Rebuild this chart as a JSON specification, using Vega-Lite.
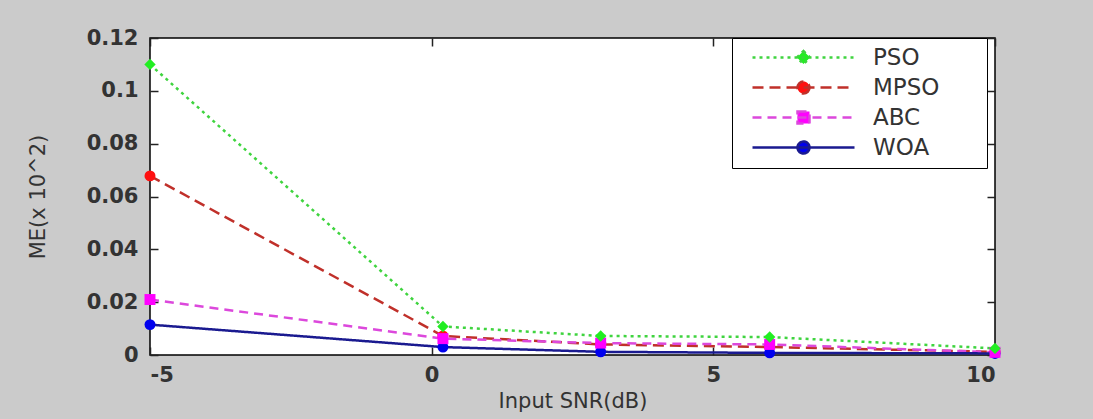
{
  "$schema": "https://vega.github.io/schema/vega-lite/v6.json",
  "width": 845,
  "height": 317,
  "autosize": {"type": "none"},
  "padding": {"left": 150, "top": 38, "right": 98, "bottom": 64},
  "background": "#cbcbcb",
  "config": {
    "view": {"fill": "white", "stroke": "black", "strokeWidth": 1.5},
    "axis": {
      "labelFont": "DejaVu Sans",
      "labelFontWeight": "bold",
      "labelFontSize": 21,
      "labelColor": "#333333",
      "titleFont": "DejaVu Sans",
      "titleFontWeight": "normal",
      "titleFontSize": 21,
      "titleColor": "#333333",
      "domain": false,
      "grid": false,
      "tickColor": "#222222",
      "tickWidth": 1.5,
      "tickSize": -8
    }
  },
  "data": {
    "values": [
      {"snr": -5, "me": 0.110, "algo": "PSO"},
      {"snr": 0.2, "me": 0.0108, "algo": "PSO"},
      {"snr": 3, "me": 0.0072, "algo": "PSO"},
      {"snr": 6, "me": 0.0068, "algo": "PSO"},
      {"snr": 10, "me": 0.0025, "algo": "PSO"},
      {"snr": -5, "me": 0.0678, "algo": "MPSO"},
      {"snr": 0.2, "me": 0.0072, "algo": "MPSO"},
      {"snr": 3, "me": 0.0040, "algo": "MPSO"},
      {"snr": 6, "me": 0.0030, "algo": "MPSO"},
      {"snr": 10, "me": 0.0012, "algo": "MPSO"},
      {"snr": -5, "me": 0.0210, "algo": "ABC"},
      {"snr": 0.2, "me": 0.0062, "algo": "ABC"},
      {"snr": 3, "me": 0.0045, "algo": "ABC"},
      {"snr": 6, "me": 0.0040, "algo": "ABC"},
      {"snr": 10, "me": 0.0010, "algo": "ABC"},
      {"snr": -5, "me": 0.0115, "algo": "WOA"},
      {"snr": 0.2, "me": 0.0030, "algo": "WOA"},
      {"snr": 3, "me": 0.0012, "algo": "WOA"},
      {"snr": 6, "me": 0.0008, "algo": "WOA"},
      {"snr": 10, "me": 0.0006, "algo": "WOA"}
    ]
  },
  "resolve": {"axis": {"x": "independent", "y": "independent"}},
  "layer": [
    {
      "mark": {"type": "line", "strokeWidth": 2.5, "clip": false},
      "encoding": {
        "x": {
          "field": "snr", "type": "quantitative",
          "scale": {"domain": [-5, 10], "nice": false, "zero": false},
          "axis": {"orient": "bottom", "values": [-5, 0, 5, 10], "labelExpr": "toString(datum.value)", "labelPadding": 17, "title": "Input SNR(dB)", "titlePadding": 5}
        },
        "y": {
          "field": "me", "type": "quantitative",
          "scale": {"domain": [0, 0.12], "nice": false},
          "axis": {"orient": "left", "values": [0, 0.02, 0.04, 0.06, 0.08, 0.1, 0.12], "labelExpr": "format(datum.value, '.2~f')", "labelPadding": 20, "title": "ME(x 10^2)", "titlePadding": 38}
        },
        "color": {
          "field": "algo", "type": "nominal",
          "scale": {"domain": ["PSO", "MPSO", "ABC", "WOA"], "range": ["#3fd43f", "#c0302a", "#dc48dc", "#1a1a90"]},
          "legend": {
            "title": null,
            "orient": "none",
            "legendX": 582,
            "legendY": 0,
            "padding": 8,
            "strokeColor": "black",
            "fillColor": "white",
            "labelFont": "DejaVu Sans",
            "labelFontSize": 23,
            "labelColor": "#333333",
            "labelOffset": 58,
            "symbolOffset": 52,
            "rowPadding": 6,
            "symbolSize": 144,
            "symbolStrokeWidth": 2.5,
            "encode": {
              "symbols": {
                "update": {
                  "shape": {"signal": "datum.value === 'ABC' ? 'M-8.5,0H8.5M-1,-1H1V1H-1ZM28.4,0' : (datum.value === 'PSO' ? 'M-8.5,0H8.5M0,-1.1L1.1,0L0,1.1L-1.1,0ZM28.4,0' : 'M-8.5,0H8.5M1,0A1,1 0 1,1 -1,0A1,1 0 1,1 1,0ZM28.4,0')"},
                  "fill": {"signal": "datum.value === 'PSO' ? '#22ee22' : (datum.value === 'MPSO' ? '#ff1010' : (datum.value === 'ABC' ? '#ff00ff' : '#0000ee'))"},
                  "strokeDash": {"signal": "datum.value === 'PSO' ? [3, 4] : (datum.value === 'MPSO' ? [11, 6] : (datum.value === 'ABC' ? [9, 6] : [1, 0]))"},
                  "strokeWidth": {"value": 2.5},
                  "opacity": {"value": 1}
                }
              }
            }
          }
        },
        "strokeDash": {
          "field": "algo", "type": "nominal",
          "scale": {"domain": ["PSO", "MPSO", "ABC", "WOA"], "range": [[3, 4], [11, 6], [9, 6], [1, 0]]},
          "legend": null
        }
      }
    },
    {
      "transform": [{"filter": "datum.algo === 'MPSO' || datum.algo === 'WOA'"}],
      "mark": {"type": "point", "shape": "circle", "filled": true, "opacity": 1, "size": 120, "clip": false},
      "encoding": {
        "x": {"field": "snr", "type": "quantitative", "axis": null},
        "y": {"field": "me", "type": "quantitative", "axis": null},
        "fill": {
          "field": "algo", "type": "nominal",
          "scale": {"domain": ["PSO", "MPSO", "ABC", "WOA"], "range": ["#22ee22", "#ff1010", "#ff00ff", "#0000ee"]},
          "legend": null
        }
      }
    },
    {
      "transform": [{"filter": "datum.algo === 'ABC'"}],
      "mark": {"type": "point", "shape": "square", "filled": true, "opacity": 1, "size": 120, "clip": false},
      "encoding": {
        "x": {"field": "snr", "type": "quantitative", "axis": null},
        "y": {"field": "me", "type": "quantitative", "axis": null},
        "fill": {"field": "algo", "type": "nominal", "legend": null}
      }
    },
    {
      "transform": [{"filter": "datum.algo === 'PSO'"}],
      "mark": {"type": "point", "shape": "diamond", "filled": true, "opacity": 1, "size": 130, "clip": false},
      "encoding": {
        "x": {"field": "snr", "type": "quantitative", "axis": null},
        "y": {"field": "me", "type": "quantitative", "axis": null},
        "fill": {"field": "algo", "type": "nominal", "legend": null}
      }
    },
    {
      "mark": {"type": "point", "opacity": 0},
      "encoding": {
        "x": {"field": "snr", "type": "quantitative", "axis": {"orient": "top", "values": [-5, 0, 5, 10], "labels": false, "title": null}},
        "y": {"field": "me", "type": "quantitative", "axis": {"orient": "right", "values": [0, 0.02, 0.04, 0.06, 0.08, 0.1, 0.12], "labels": false, "title": null}}
      }
    }
  ]
}
